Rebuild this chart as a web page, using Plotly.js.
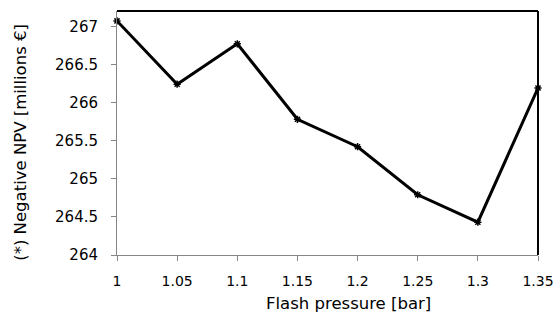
<!DOCTYPE html>
<html><head><meta charset="utf-8">
<script src="https://cdn.plot.ly/plotly-3.0.1.min.js"></script>
<style>html,body{margin:0;padding:0;background:#fff;}</style>
</head><body>
<div id="chart" style="width:553px;height:313px;"></div>
<script>
const pressure = [1, 1.05, 1.1, 1.15, 1.2, 1.25, 1.3, 1.35];
const negNPV = [267.07, 266.24, 266.77, 265.78, 265.42, 264.79, 264.43, 266.19];
const xTicks = [1, 1.05, 1.1, 1.15, 1.2, 1.25, 1.3, 1.35];
const xTickText = ["1", "1.05", "1.1", "1.15", "1.2", "1.25", "1.3", "1.35"];
const yTicks = [264, 264.5, 265, 265.5, 266, 266.5, 267];
const yTickText = ["264", "264.5", "265", "265.5", "266", "266.5", "267"];

const font = "DejaVu Sans, sans-serif";
const trace = {
  x: pressure, y: negNPV, type: "scatter", mode: "lines+markers",
  line: {color: "#000", width: 3},
  marker: {symbol: "asterisk-open", size: 6, color: "#000", line: {color: "#000", width: 1.5}},
  cliponaxis: false, showlegend: false, hoverinfo: "skip"
};
const layout = {
  width: 553, height: 313,
  margin: {l: 117, r: 15, t: 11, b: 58},
  paper_bgcolor: "#fff", plot_bgcolor: "#fff",
  font: {family: font, color: "#000"},
  xaxis: {
    range: [1, 1.35], tickvals: xTicks, ticktext: xTickText,
    showgrid: false, zeroline: false, showline: true, linecolor: "#868686", linewidth: 1,
    ticks: "outside", ticklen: 5, tickcolor: "#868686", tickwidth: 1,
    ticklabelstandoff: 8, ticklabeloverflow: "allow",
    tickfont: {family: font, size: 14, color: "#000"}
  },
  yaxis: {
    range: [264, 267.2], tickvals: yTicks, ticktext: yTickText,
    showgrid: false, zeroline: false, showline: true, linecolor: "#868686", linewidth: 1,
    ticks: "outside", ticklen: 5, tickcolor: "#868686", tickwidth: 1,
    ticklabelstandoff: 10,
    tickfont: {family: font, size: 15, color: "#000"}
  },
  shapes: [
    {type: "line", xref: "paper", yref: "paper", x0: 0, x1: 1, y0: 1, y1: 1, line: {color: "#000", width: 2}},
    {type: "line", xref: "paper", yref: "paper", x0: 1, x1: 1, y0: 0, y1: 1, line: {color: "#000", width: 2}}
  ],
  annotations: [
    {text: "Flash pressure [bar]", xref: "paper", yref: "paper", x: 0.551, y: 0, yshift: -48,
     xanchor: "center", yanchor: "middle", showarrow: false, font: {family: font, size: 16.5, color: "#000"}},
    {text: "(*) Negative NPV [millions €]", xref: "paper", yref: "paper", x: 0, xshift: -96, y: 0.46,
     xanchor: "center", yanchor: "middle", textangle: -90, showarrow: false, font: {family: font, size: 16.5, color: "#000"}}
  ]
};
Plotly.newPlot("chart", [trace], layout, {displayModeBar: false, staticPlot: true});
</script>
</body></html>
